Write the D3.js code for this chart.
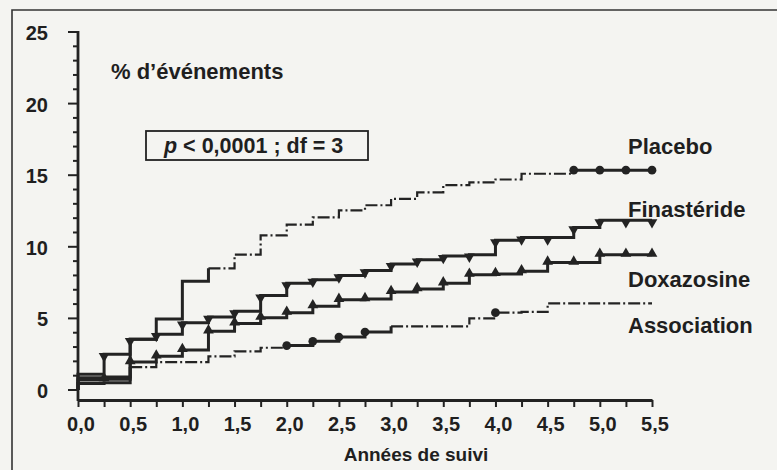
<!DOCTYPE html>
<html>
<head>
<meta charset="utf-8">
<script src="https://cdn.jsdelivr.net/npm/d3@7"></script>
<style>
  body { margin: 0; background: #f4f4f1; }
  svg text { font-family: "Liberation Sans", Arial, sans-serif; font-weight: bold; fill: #1f1f1f; }
</style>
</head>
<body>
<svg id="chart" width="777" height="470" viewBox="0 0 777 470"></svg>
<script>
// data (cumulative % of events, value held from each year on)
const years = [0, 0.25, 0.5, 0.75, 1, 1.25, 1.5, 1.75, 2, 2.25, 2.5, 2.75, 3, 3.25, 3.5, 3.75, 4, 4.25, 4.5, 4.75, 5, 5.25, 5.5];
const placebo = [0.85, 0.9, 3.55, 4.95, 7.6, 8.5, 9.45, 10.8, 11.55, 12.05, 12.55, 12.9, 13.35, 13.8, 14.3, 14.5, 14.7, 15.1, 15.1, 15.35, 15.35, 15.35, 15.35];
const finasteride = [1.1, 2.5, 3.55, 3.9, 4.7, 5.1, 5.5, 6.6, 7.45, 7.7, 8.0, 8.35, 8.8, 9.1, 9.35, 9.45, 10.45, 10.65, 10.65, 11.35, 11.85, 11.85, 11.85];
const doxazosine = [0.7, 0.75, 1.95, 2.35, 2.8, 4.1, 4.65, 5.05, 5.4, 5.85, 6.3, 6.35, 6.85, 7.05, 7.45, 8.05, 8.1, 8.3, 8.9, 8.9, 9.45, 9.45, 9.45];
const association = [0.45, 0.5, 1.6, 1.95, 1.95, 2.35, 2.7, 2.95, 3.1, 3.4, 3.7, 4.05, 4.45, 4.45, 4.45, 5.0, 5.4, 5.45, 6.05, 6.05, 6.05, 6.05, 6.05];
const seriesNames = ["Placebo", "Finastéride", "Doxazosine", "Association"];

const xMajorTicks = [0, 0.5, 1, 1.5, 2, 2.5, 3, 3.5, 4, 4.5, 5, 5.5];
const xTickLabels = ["0,0", "0,5", "1,0", "1,5", "2,0", "2,5", "3,0", "3,5", "4,0", "4,5", "5,0", "5,5"];
const yMajorTicks = [0, 5, 10, 15, 20, 25];
const yTickLabels = ["0", "5", "10", "15", "20", "25"];

const svg = d3.select("#chart");

// scanned page frame (top and left edges only)
svg.append("path")
  .attr("d", "M12,470 V10 H777")
  .attr("fill", "none")
  .attr("stroke", "#333")
  .attr("stroke-width", 1.6);

const x = d3.scaleLinear().domain([0, 5.5]).range([78, 652]);
const y = d3.scaleLinear().domain([0, 25]).range([390, 32]);
const axisY = 400;

// y axis
const yAxis = svg.append("g").attr("transform", "translate(78,0)");
yAxis.append("line")
  .attr("y1", y(25) - 1).attr("y2", axisY + 1)
  .attr("stroke", "#222").attr("stroke-width", 2.8);
yAxis.selectAll(".minor")
  .data(d3.range(0, 26))
  .enter().append("line")
  .attr("x1", (d) => (d % 5 === 0 ? -10 : -5))
  .attr("x2", 0)
  .attr("y1", (d) => y(d)).attr("y2", (d) => y(d))
  .attr("stroke", "#222").attr("stroke-width", 2);
yAxis.selectAll("text")
  .data(yMajorTicks)
  .enter().append("text")
  .attr("x", -30)
  .attr("y", (d) => y(d) + 8)
  .attr("text-anchor", "end")
  .style("font-size", "20px")
  .text((d, i) => yTickLabels[i]);

// x axis
const xAxis = d3.axisBottom(x)
  .tickValues(d3.range(0, 5.51, 0.25))
  .tickSize(7)
  .tickSizeOuter(0)
  .tickFormat("");
const gx = svg.append("g").attr("transform", `translate(0,${axisY})`).call(xAxis);
gx.select(".domain").attr("stroke", "#222").attr("stroke-width", 2.8);
gx.selectAll(".tick line").attr("stroke", "#222").attr("stroke-width", 2);
svg.append("g").selectAll("text")
  .data(xMajorTicks)
  .enter().append("text")
  .attr("x", (d) => x(d) + 3)
  .attr("y", 431)
  .attr("text-anchor", "middle")
  .style("font-size", "20px")
  .text((d, i) => xTickLabels[i]);

svg.append("text")
  .attr("x", 416).attr("y", 461)
  .attr("text-anchor", "middle")
  .style("font-size", "19px")
  .text("Années de suivi");

svg.append("text")
  .attr("x", 111).attr("y", 79)
  .style("font-size", "22px")
  .text("% d\u2019événements");

// p-value box
svg.append("rect")
  .attr("x", 146).attr("y", 131)
  .attr("width", 222).attr("height", 29)
  .attr("fill", "none").attr("stroke", "#222").attr("stroke-width", 1.8);
const pText = svg.append("text")
  .attr("x", 164).attr("y", 153)
  .style("font-size", "21.5px");
pText.append("tspan").style("font-style", "italic").text("p");
pText.append("tspan").text(" < 0,0001 ; df = 3");

// curves
const seriesValues = [placebo, finasteride, doxazosine, association];
const curveStyle = {
  Placebo: { solid: [[0, 1.25], [4.75, 5.5]], marker: "circle", markAt: [4.75, 5, 5.25, 5.5] },
  "Finastéride": { solid: [[0, 5.5]], marker: "down", markAt: years.slice(1) },
  Doxazosine: { solid: [[0, 5.5]], marker: "up", markAt: years.slice(1) },
  Association: { solid: [[0, 0.5], [2, 3]], marker: "circle", markAt: [2, 2.25, 2.5, 2.75, 4] },
};
const labelPos = { Placebo: 154, "Finastéride": 217, Doxazosine: 287, Association: 333 };

const stepLine = d3.line()
  .x((d) => x(d.t))
  .y((d) => y(d.v))
  .curve(d3.curveStepAfter);

const curvesGroup = svg.append("g");

seriesNames.forEach((name, si) => {
  const values = seriesValues[si];
  const pts = years.map((t, i) => ({ t: t, v: values[i] }));
  const style = curveStyle[name];

  // split into solid spans and dash-dot gaps
  const spans = [];
  let cursor = 0;
  style.solid.forEach(([a, b]) => {
    if (a > cursor) spans.push({ a: cursor, b: a, solid: false });
    spans.push({ a: a, b: b, solid: true });
    cursor = b;
  });
  if (cursor < 5.5) spans.push({ a: cursor, b: 5.5, solid: false });

  spans.forEach((span) => {
    let segment = pts.filter((p) => p.t >= span.a - 1e-9 && p.t <= span.b + 1e-9);
    if (span.a === 0) segment = [{ t: 0, v: 0 }].concat(segment);
    curvesGroup.append("path")
      .attr("d", stepLine(segment))
      .attr("fill", "none")
      .attr("stroke", "#232323")
      .attr("stroke-width", span.solid ? 3 : 2.2)
      .attr("stroke-dasharray", span.solid ? null : "12,3,2,3");
  });

  const symbolType = style.marker === "circle" ? d3.symbolCircle : d3.symbolTriangle;
  const symbolSize = style.marker === "circle" ? 60 : 50;
  curvesGroup.append("g").selectAll("path")
    .data(style.markAt)
    .enter().append("path")
    .attr("d", d3.symbol(symbolType, symbolSize))
    .attr("fill", "#232323")
    .attr("transform", (t) => {
      const v = values[years.indexOf(t)];
      const rot = style.marker === "down" ? " rotate(180)" : "";
      const dy = style.marker === "down" ? 2 : style.marker === "up" ? -1 : 0;
      return `translate(${x(t)},${y(v) + dy})${rot}`;
    });

  svg.append("text")
    .attr("x", 628).attr("y", labelPos[name])
    .style("font-size", "22px")
    .text(name);
});
</script>
</body>
</html>
